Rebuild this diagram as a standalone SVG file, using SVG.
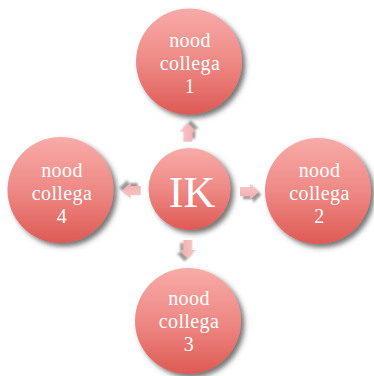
<svg xmlns="http://www.w3.org/2000/svg" width="374" height="376" viewBox="0 0 374 376">
<defs>
<linearGradient id="gCircle" x1="0" y1="0" x2="0" y2="1">
<stop offset="0" stop-color="#F8ABA8"/>
<stop offset="0.5" stop-color="#EE8985"/>
<stop offset="1" stop-color="#DE5A54"/>
</linearGradient>
<linearGradient id="gArrow" x1="0" y1="0" x2="0" y2="1">
<stop offset="0" stop-color="#F9C8C8"/>
<stop offset="1" stop-color="#F1ADAD"/>
</linearGradient>
<filter id="shadow" x="-20%" y="-20%" width="150%" height="150%">
<feDropShadow dx="3.5" dy="3.5" stdDeviation="2.8" flood-color="#3a3a3a" flood-opacity="0.7"/>
</filter>
<filter id="ashadow" x="-40%" y="-40%" width="200%" height="200%">
<feDropShadow dx="3" dy="3" stdDeviation="1.3" flood-color="#555" flood-opacity="0.6"/>
</filter>
<path id="arrow" d="M0,-4.6 L10,-4.6 L10,-8.2 L18.5,0 L10,8.2 L10,4.6 L0,4.6 Z"/>
</defs>
<style>
.node circle { fill: url(#gCircle); filter: url(#shadow); }
.lbl { font-family: "Liberation Serif", "DejaVu Serif", serif; font-size: 20px; letter-spacing: 0.4px; fill: #ffffff; text-anchor: middle; }
.big { font-family: "Liberation Serif", "DejaVu Serif", serif; font-size: 44px; fill: #ffffff; text-anchor: middle; }
.arr { fill: url(#gArrow); filter: url(#ashadow); }
</style>
<rect width="374" height="376" fill="#ffffff"/>

<g id="connectors">
<use href="#arrow" class="arr" transform="translate(187.8,141.7) rotate(-90)"/>
<use href="#arrow" class="arr" transform="translate(140.7,190.7) rotate(180)"/>
<use href="#arrow" class="arr" transform="translate(240,191.7)"/>
<use href="#arrow" class="arr" transform="translate(187.7,240) rotate(90)"/>
</g>

<g id="node-ik" class="node">
<circle cx="189.5" cy="189" r="41"/>
<text class="big" x="192" y="206.5">IK</text>
</g>

<g id="node-1" class="node">
<circle cx="189" cy="61.5" r="53"/>
<text class="lbl" x="190" y="47">nood</text>
<text class="lbl" x="190" y="70">collega</text>
<text class="lbl" x="190" y="93">1</text>
</g>

<g id="node-2" class="node">
<circle cx="318" cy="191" r="53"/>
<text class="lbl" x="319.5" y="176.5">nood</text>
<text class="lbl" x="319.5" y="199.5">collega</text>
<text class="lbl" x="319.5" y="222.5">2</text>
</g>

<g id="node-3" class="node">
<circle cx="188" cy="321" r="53"/>
<text class="lbl" x="189" y="305">nood</text>
<text class="lbl" x="189" y="328">collega</text>
<text class="lbl" x="189" y="351">3</text>
</g>

<g id="node-4" class="node">
<circle cx="60.5" cy="190" r="53"/>
<text class="lbl" x="62" y="176.5">nood</text>
<text class="lbl" x="62" y="199.5">collega</text>
<text class="lbl" x="62" y="222.5">4</text>
</g>
</svg>
